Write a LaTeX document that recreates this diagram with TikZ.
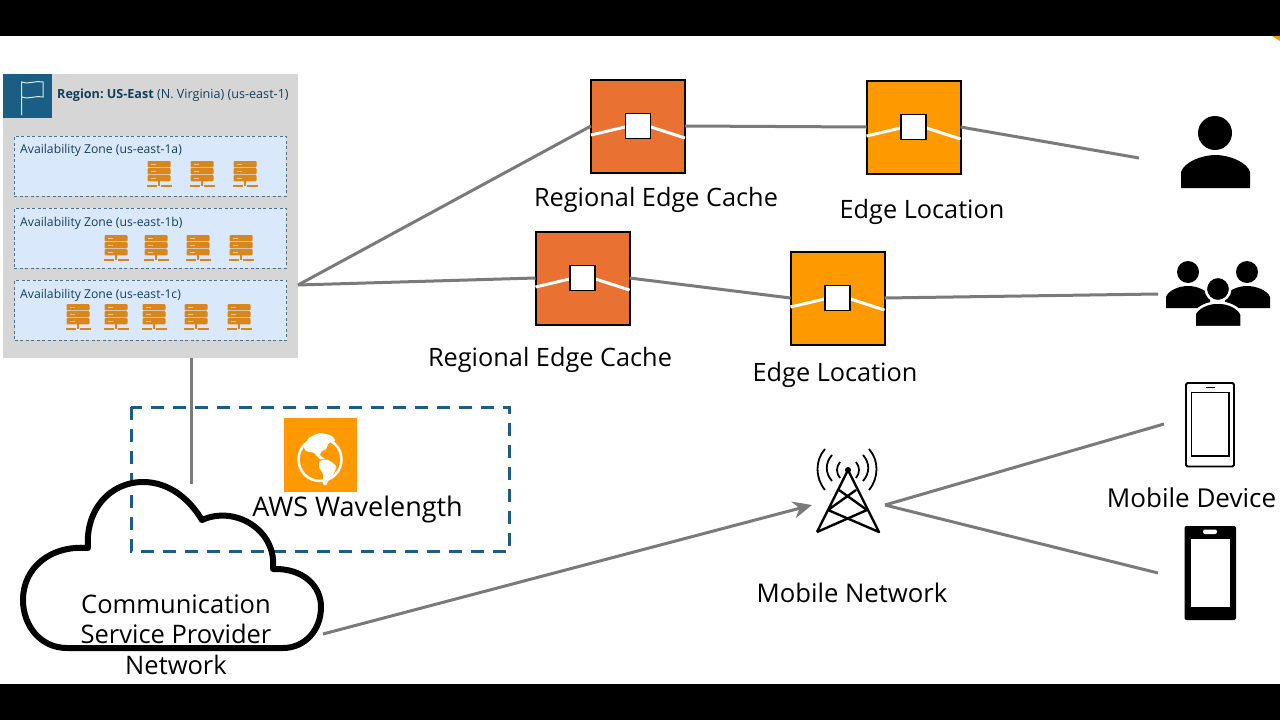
\documentclass[tikz,border=0pt]{standalone}
\usepackage{fontspec}
\setmainfont{Open Sans}
\usetikzlibrary{arrows.meta}

\definecolor{flagblue}{HTML}{1B5E85}
\definecolor{cacheorange}{HTML}{E97233}
\definecolor{edgeorange}{HTML}{FF9900}
\definecolor{serverorange}{HTML}{D9861C}
\definecolor{zoneblue}{HTML}{DAE8FC}
\definecolor{zoneline}{HTML}{4F6F8C}
\definecolor{regiontint}{HTML}{113F5E}
\definecolor{linkgray}{HTML}{7A7A7A}

\tikzset{
  edgebox/.style={draw=black, line width=2pt, minimum width=94pt, minimum height=93pt, inner sep=0pt, outer sep=0pt},
  markbox/.style={draw=black, line width=1.5pt, fill=white, minimum width=25pt, minimum height=25pt, inner sep=0pt},
  zonebox/.style={draw=zoneline, dashed, dash pattern=on 3pt off 2.5pt, line width=.8pt, fill=zoneblue, minimum width=272pt, minimum height=60pt, inner sep=0pt, outer sep=0pt},
  zonetext/.style={anchor=west, inner sep=0pt, text=regiontint, font=\fontsize{12.2}{14}\selectfont},
  biglabel/.style={inner sep=0pt, font=\fontsize{25.3}{30.5}\selectfont},
  link/.style={draw=linkgray, line width=3pt},
}

\newcommand{\edgemark}[1]{
  \draw [white, line width=3pt] ([shift={(-47,9)}]#1.center) -- ([shift={(-13,1)}]#1.center);
  \draw [white, line width=3pt] ([shift={(13,1)}]#1.center) -- ([shift={(47,12)}]#1.center);
  \node [markbox] (#1mark) at (#1.center) {};
}

\newcommand{\servericon}[2]{
  \begin{scope}[shift={(#1,#2)}]
    \foreach \sy in {0,7,14} {
      \fill [serverorange, rounded corners=1pt] (-11.5,\sy) rectangle (11.5,\sy+6.4);
      \fill [white!55!serverorange] (-8,\sy+2.7) rectangle (-3,\sy+3.5);
    }
    \fill [serverorange] (-.7,20) rectangle (.7,25);
    \fill [serverorange] (-12.5,24) rectangle (-2,26);
    \fill [serverorange] (2,24) rectangle (12.5,26);
  \end{scope}
}

\begin{document}
\begin{tikzpicture}[x=1pt, y=-1pt]
\useasboundingbox (0,0) rectangle (1280,720);

\fill [white] (0,0) rectangle (1280,720);
\fill [black] (0,0) rectangle (1280,36);
\fill [black] (0,684) rectangle (1280,720);
\fill [edgeorange] (1272,36) -- (1280,36) -- (1280,41) -- cycle;

\node [fill=black!16, minimum width=295pt, minimum height=284pt, inner sep=0pt, outer sep=0pt] (region) at (150.5,216) {};
\node [fill=flagblue, minimum width=49pt, minimum height=44pt, inner sep=0pt] (flag) at (27.5,96) {};
\draw [white!85!flagblue, line width=1pt] (21.5,115) -- (21.5,82) .. controls (28,85) and (36,80) .. (43,82) -- (43,97) .. controls (36,95) and (28,100) .. (21.5,97);
\node [anchor=west, inner sep=0pt, text=regiontint, font=\fontsize{12.6}{14}\selectfont] (regiontext) at (57,95) {\textbf{Region:\ US-East} (N. Virginia) (us-east-1)};

\node [zonebox] (zonea) at (150,166) {};
\node [zonebox] (zoneb) at (150,238) {};
\node [zonebox] (zonec) at (150.5,310) {};
\node [zonetext] (zoneatext) at (20,150.5) {Availability Zone (us-east-1a)};
\node [zonetext] (zonebtext) at (20,223.5) {Availability Zone (us-east-1b)};
\node [zonetext] (zonectext) at (20,295.5) {Availability Zone (us-east-1c)};

\foreach \sx in {159,202,245} {\servericon{\sx}{161}}
\foreach \sx in {116,156,198,241} {\servericon{\sx}{235}}
\foreach \sx in {78,116,154,196,239} {\servericon{\sx}{304}}

\node [edgebox, fill=cacheorange] (cacheone) at (638,126) {};
\node [edgebox, fill=edgeorange] (edgeone) at (913.5,127) {};
\node [edgebox, fill=cacheorange] (cachetwo) at (582.5,278) {};
\node [edgebox, fill=edgeorange] (edgetwo) at (837.5,298) {};
\edgemark{cacheone}
\edgemark{edgeone}
\edgemark{cachetwo}
\edgemark{edgetwo}

\node [biglabel] (cacheonetext) at (656,199.5) {Regional Edge Cache};
\node [biglabel] (edgeonetext) at (922,211.5) {Edge Location};
\node [biglabel] (cachetwotext) at (550,359.5) {Regional Edge Cache};
\node [biglabel] (edgetwotext) at (835,374.5) {Edge Location};

\coordinate (regionout) at (298,285);
\coordinate (regionlow) at (191,358);
\coordinate (cloudtop) at (191,484);
\coordinate (cloudout) at (323,634);
\coordinate (userend) at (1139,158);
\coordinate (groupend) at (1158,294);
\coordinate (phoneone) at (1164,424);
\coordinate (phonetwo) at (1158,573);

\draw [link] (regionout) -- (cacheone.west);
\draw [link] (regionout) -- (cachetwo.west);
\draw [link] (cacheone.east) -- (edgeone.west);
\draw [link] (edgeone.east) -- (userend);
\draw [link] (cachetwo.east) -- (edgetwo.west);
\draw [link] (edgetwo.east) -- (groupend);
\draw [link] (regionlow) -- (cloudtop);

\draw [flagblue, line width=3pt, dash pattern=on 13pt off 9pt] (131,407) rectangle (509.5,551);

\node [fill=edgeorange, minimum width=73pt, minimum height=74pt, inner sep=0pt] (wavebox) at (320.5,455) {};
\draw [white, line width=2.5pt] (320,459.5) circle (21.5);
\fill [white] plot [smooth cycle, tension=.4] coordinates {(304,447) (309,438) (320,433) (332,436) (335,441) (329,443) (326,449) (322,451) (320,455) (325,459) (320,459) (314,453) (310,452) (306,451)};
\fill [white] plot [smooth cycle, tension=.4] coordinates {(320,461) (328,460) (336,466) (334,473) (330,478) (326,485) (323,484) (323,474) (319,467)};
\node [inner sep=0pt, font=\fontsize{27}{30}\selectfont] (wavetext) at (357.5,509) {AWS Wavelength};

\draw [black, line width=6pt, line join=round] (67,648)
  .. controls (40,648) and (23,625) .. (23,600)
  .. controls (23,568) and (50,545) .. (88,548)
  .. controls (85,510) and (110,482) .. (143,482)
  .. controls (170,482) and (190,500) .. (202,520)
  .. controls (235,505) and (277,530) .. (273,569)
  .. controls (302,568) and (321,585) .. (321,607)
  .. controls (321,630) and (305,648) .. (283,648)
  -- cycle;
\node [inner sep=0pt, align=center, font=\fontsize{25.5}{30.5}\selectfont] (cloudtext) at (176,634.5) {Communication\\Service Provider\\Network};

\node [minimum width=73pt, minimum height=80pt, inner sep=0pt, outer sep=0pt] (tower) at (848.5,505) {};
\draw [black, line width=2.4pt, line join=round] (817,532) -- (848,470) -- (879,532) -- (828,510) -- (856,490);
\draw [black, line width=2.4pt, line join=round] (817,532) -- (867,510) -- (839,490);
\fill [black] (848,470) circle (3);
\draw [black, line width=1.8pt] (840,462) .. controls (836,467) and (836,473) .. (840,478);
\draw [black, line width=1.8pt] (832,455) .. controls (825,463) and (825,473) .. (832,481);
\draw [black, line width=1.8pt] (825,449) .. controls (815,460) and (815,478) .. (825,490);
\draw [black, line width=1.8pt] (856,462) .. controls (860,467) and (860,473) .. (856,478);
\draw [black, line width=1.8pt] (863,455) .. controls (870,463) and (870,473) .. (863,481);
\draw [black, line width=1.8pt] (869,449) .. controls (879,460) and (879,478) .. (869,490);

\draw [link, -{Stealth[length=19pt, width=17pt]}] (cloudout) -- (tower.west);
\draw [link] (tower.east) -- (phoneone);
\draw [link] (tower.east) -- (phonetwo);
\node [inner sep=0pt, font=\fontsize{25.7}{30}\selectfont] (towertext) at (852,593) {Mobile Network};

\fill [black] (1215,133) circle (17);
\fill [black] (1181,188) -- (1181,172) .. controls (1184,162) and (1202,155) .. (1215.5,155) .. controls (1229,155) and (1247,162) .. (1250,172) -- (1250,188) -- cycle;

\fill [black] (1188,272) circle (11);
\fill [black] (1247,272) circle (11);
\fill [black] (1166,308) -- (1166,297) .. controls (1168,291) and (1178,286) .. (1188,286) .. controls (1198,286) and (1208,291) .. (1210,297) -- (1210,308) -- cycle;
\fill [black] (1225,308) -- (1225,297) .. controls (1227,291) and (1237,286) .. (1247,286) .. controls (1257,286) and (1268,291) .. (1270,297) -- (1270,308) -- cycle;
\fill [black, draw=white, line width=2.5pt] (1218,289) circle (12.2);
\fill [black, draw=white, line width=2.5pt] (1194.5,327) -- (1194.5,314) .. controls (1197,308) and (1207,302.5) .. (1218,302.5) .. controls (1229,302.5) and (1239,308) .. (1241.5,314) -- (1241.5,327) -- cycle;
\fill [white] (1190,326) rectangle (1245,330);

\draw [black, line width=1.8pt, rounded corners=1.5pt] (1186,383) rectangle (1234,466.5);
\draw [black, line width=1.6pt] (1191.5,392.5) rectangle (1229,456);
\draw [black, line width=1.5pt] (1206,387.5) -- (1215,387.5);

\fill [black, rounded corners=2pt] (1184.5,526) rectangle (1236,620);
\fill [white] (1191,539) rectangle (1229.5,607);
\fill [white, rounded corners=2pt] (1203,529.5) rectangle (1217,534);
\node [inner sep=0pt, font=\fontsize{26}{30}\selectfont] (phonetext) at (1191.5,498) {Mobile Device};

\end{tikzpicture}
\end{document}
